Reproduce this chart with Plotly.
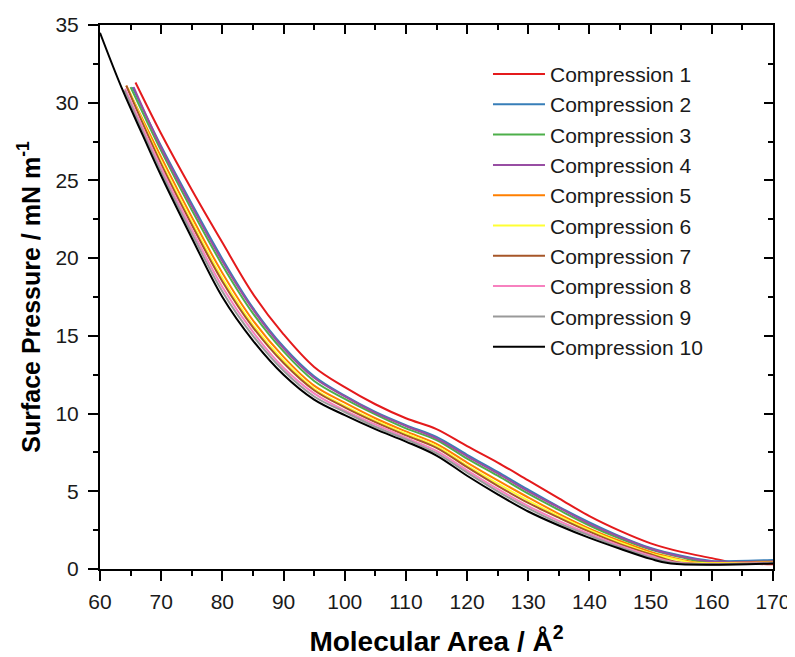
import plotly.graph_objects as go

# ---- data ----
series_names = ["Compression 1", "Compression 2", "Compression 3", "Compression 4", "Compression 5",
                "Compression 6", "Compression 7", "Compression 8", "Compression 9", "Compression 10"]
series_colors = ["#E41A1C", "#377EB8", "#4DAF4A", "#984EA3", "#FF7F00",
                 "#FFFF33", "#A65628", "#F781BF", "#999999", "#000000"]

grid = [70, 75, 80, 85, 90, 95, 100, 105, 110, 115, 120, 125, 130, 135, 140, 145, 150]

c1_x = [65.8] + grid + [155, 160, 163, 166, 170]
c1_y = [31.3, 28.0, 24.4, 21.0, 17.7, 15.1, 13.0, 11.7, 10.6, 9.7, 9.0, 7.9, 6.85, 5.7, 4.55, 3.4, 2.45, 1.65,
        1.1, 0.7, 0.45, 0.35, 0.3]

c2_x = [65.3] + grid + [155, 160, 161, 170]
c2_y = [31.0, 27.2, 23.5, 19.95, 16.8, 14.3, 12.4, 11.15, 10.1, 9.25, 8.5, 7.35, 6.25, 5.1, 4.0, 3.0, 2.1, 1.35,
        0.85, 0.52, 0.5, 0.58]

c3_x = [65.0] + grid + [155, 159, 170]
c3_y = [31.0, 26.9, 23.1, 19.55, 16.45, 14.0, 12.1, 10.95, 9.95, 9.05, 8.3, 7.1, 6.0, 4.85, 3.8, 2.8, 1.95, 1.25,
        0.75, 0.45, 0.5]

c4_x = [65.5] + grid + [155, 160, 170]
c4_y = [31.0, 27.1, 23.35, 19.8, 16.7, 14.2, 12.3, 11.1, 10.05, 9.2, 8.4, 7.25, 6.15, 5.0, 3.95, 2.9, 2.05, 1.3,
        0.8, 0.48, 0.5]

c5_x = [64.3] + grid + [155, 157.5, 170]
c5_y = [31.1, 26.5, 22.65, 19.05, 16.0, 13.65, 11.8, 10.7, 9.7, 8.85, 8.05, 6.85, 5.7, 4.6, 3.55, 2.6, 1.8, 1.1,
        0.6, 0.42, 0.45]

c6_x = [64.6] + grid + [155, 156.5, 170]
c6_y = [30.9, 26.2, 22.35, 18.7, 15.7, 13.4, 11.6, 10.5, 9.55, 8.7, 7.9, 6.65, 5.5, 4.4, 3.4, 2.5, 1.7, 1.0,
        0.55, 0.42, 0.42]

c7_x = [64.3] + grid + [155, 170]
c7_y = [31.1, 26.05, 22.15, 18.5, 15.55, 13.25, 11.5, 10.4, 9.45, 8.6, 7.8, 6.55, 5.35, 4.25, 3.3, 2.4, 1.6, 0.95,
        0.4, 0.42]

c8_x = [64.1] + grid + [154.5, 170]
c8_y = [30.9, 25.8, 21.85, 18.15, 15.25, 12.95, 11.3, 10.2, 9.3, 8.45, 7.6, 6.35, 5.15, 4.05, 3.1, 2.25, 1.5, 0.85,
        0.4, 0.4]

c9_x = [64.0] + grid + [154, 170]
c9_y = [30.8, 25.55, 21.6, 17.85, 15.0, 12.75, 11.1, 10.1, 9.15, 8.35, 7.45, 6.2, 5.0, 3.9, 2.95, 2.15, 1.4, 0.75,
        0.38, 0.38]

c10_x = [60, 63.6, 67] + grid + [153.3, 170]
c10_y = [34.5, 30.9, 27.9, 25.3, 21.3, 17.5, 14.7, 12.5, 10.9, 9.9, 9.0, 8.2, 7.3, 6.0, 4.8, 3.7, 2.8, 2.0, 1.3, 0.65,
         0.35, 0.35]

xs = [c1_x, c2_x, c3_x, c4_x, c5_x, c6_x, c7_x, c8_x, c9_x, c10_x]
ys = [c1_y, c2_y, c3_y, c4_y, c5_y, c6_y, c7_y, c8_y, c9_y, c10_y]

x_range = [60, 170]
y_range = [0, 35]
x_title = "Molecular Area / Å<sup>2</sup>"
y_title = "Surface Pressure / mN m<sup>-1</sup>"

FONT = "Liberation Sans, Arial, sans-serif"

fig = go.Figure()
for name, color, x, y in zip(series_names, series_colors, xs, ys):
    fig.add_trace(go.Scatter(x=x, y=y, mode="lines", name=name,
                             line=dict(color=color, width=2, shape="spline", smoothing=1.0)))

# empty helper trace so the mirrored (top/right) tick axes are drawn
fig.add_trace(go.Scatter(x=[], y=[], xaxis="x2", yaxis="y2", showlegend=False, hoverinfo="skip"))

axis_common = dict(showgrid=False, zeroline=False, showline=True, linecolor="black", linewidth=2,
                   tickcolor="black", tickwidth=2, automargin=False)

# the page body adds an 8px offset, so the figure is 8px smaller than the window
fig.update_layout(
    width=787, height=649,
    margin=dict(l=92, r=22, t=17, b=88),
    plot_bgcolor="white", paper_bgcolor="white",
    font=dict(family=FONT, color="black", size=21),
    xaxis=dict(range=x_range, dtick=10, tick0=60, ticks="outside", ticklen=10, ticklabelstandoff=3,
               minor=dict(dtick=5, ticks="outside", ticklen=5, tickwidth=2, tickcolor="black"),
               tickfont=dict(size=21, color="#1a1a1a"),
               title=dict(text=x_title, font=dict(size=28, family=FONT, weight="bold"), standoff=22),
               mirror=True, **axis_common),
    yaxis=dict(range=y_range, dtick=5, tick0=0, ticks="outside", ticklen=10, ticklabelstandoff=5,
               minor=dict(dtick=2.5, ticks="outside", ticklen=5, tickwidth=2, tickcolor="black"),
               tickfont=dict(size=21, color="#1a1a1a"),
               title=dict(text=y_title, font=dict(size=25, family=FONT, weight="bold"), standoff=8),
               mirror=True, **axis_common),
    xaxis2=dict(range=x_range, dtick=10, tick0=60, ticks="inside", ticklen=9, overlaying="x", side="top",
                anchor="y", showticklabels=False,
                minor=dict(dtick=5, ticks="inside", ticklen=5, tickwidth=2, tickcolor="black"),
                **axis_common),
    yaxis2=dict(range=y_range, dtick=5, tick0=0, ticks="inside", ticklen=9, overlaying="y", side="right",
                anchor="x", showticklabels=False,
                minor=dict(dtick=2.5, ticks="inside", ticklen=5, tickwidth=2, tickcolor="black"),
                **axis_common),
    legend=dict(x=0.5765, y=0.947, xanchor="left", yanchor="top", bgcolor="rgba(0,0,0,0)",
                font=dict(size=21, color="#1a1a1a"), tracegroupgap=0, itemwidth=52),
    showlegend=True,
)

fig.write_html("out.html")
